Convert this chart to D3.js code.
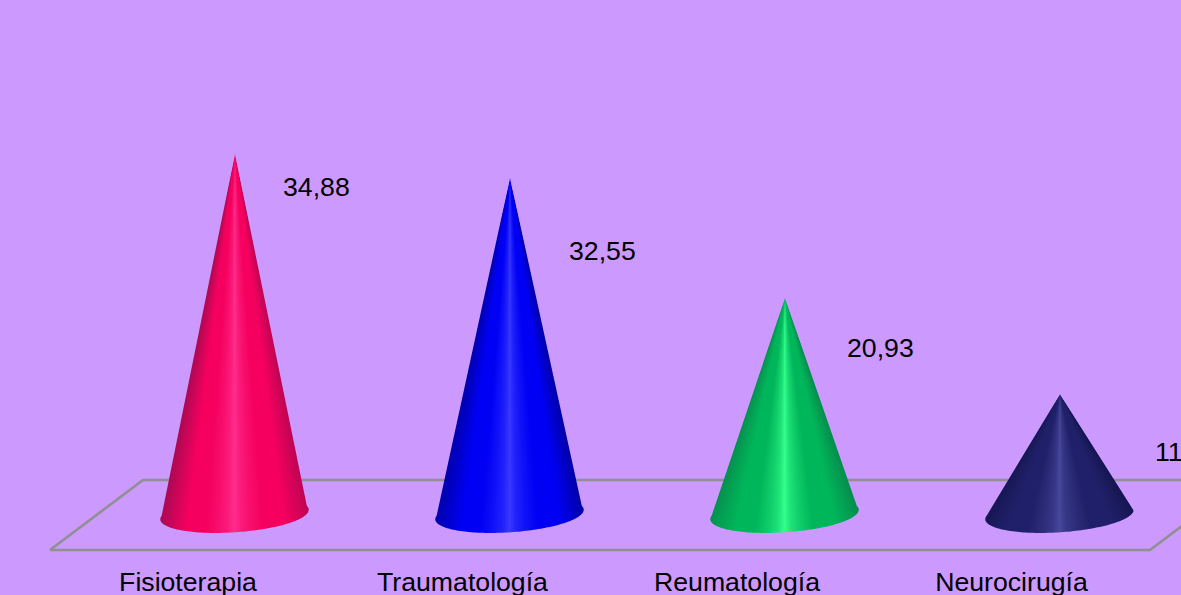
<!DOCTYPE html>
<html><head><meta charset="utf-8">
<script src="https://cdn.jsdelivr.net/npm/d3@7"></script>
<style>html,body{margin:0;padding:0;background:#CC99FF;overflow:hidden}svg{display:block}</style>
</head><body><svg id="c" width="1181" height="595"></svg>
<script>
const categories = ["Fisioterapia","Traumatología","Reumatología","Neurocirugía"];
const values = [34.88,32.55,20.93,11.63];
const valueLabels = ["34,88","32,55","20,93","11,63"];
// shading: left edge, body, highlight, right edge
const shades = [
  ["#a00a50","#f5005f","#ff2e8e","#b80552"],
  ["#0000a0","#0000f5","#3838ff","#0000a0"],
  ["#058a4c","#00b65a","#33ff8c","#058a4c"],
  ["#151550","#20206a","#47479c","#151550"]
];
const labelDx = [48,59,62,95];
const labelDy = [40,80,57,65];

const W=1181,H=595;
const svg=d3.select("#c");
const defs=svg.append("defs");
svg.append("rect").attr("width",W).attr("height",H).attr("fill","#CC99FF");
const x=d3.scalePoint().domain(categories).range([235,1060]);
const xLabel=d3.scalePoint().domain(categories).range([188,1011.5]);
const y=d3.scaleLinear().domain([0,34.88]).range([516.3,156]);

// floor
const floorFront=550, floorBack=480, floorL=50, floorR=1150, skew=93;
svg.append("path").attr("fill","none").attr("stroke","#909090").attr("stroke-width",2.6)
  .attr("d",d3.line()([[floorL,floorFront],[floorR,floorFront],[floorR+skew,floorBack],[floorL+skew,floorBack],[floorL,floorFront]]));

const a=74.4,b=17.8,rot=-Math.atan(10/148),TH=[168,372],tip=2;
const ux=Math.cos(rot),uy=Math.sin(rot);
const FONT="Liberation Sans, Arial",FS=26.67;
categories.forEach((c,i)=>{
  const ax=x(c),ay=y(values[i]);
  const cx=ax-0.5,cy=y(0)-1.8;
  const s=shades[i];
  const mix=d3.interpolateRgb(s[1],s[2]);
  const stops=[[0,s[0]],[.2,s[1]],[.32,s[1]],[.4,mix(.3)],[.46,mix(.6)],[.5,s[2]],[.54,mix(.6)],[.6,mix(.3)],[.68,s[1]],[.82,s[1]],[1,s[3]]];
  const gr=defs.append("linearGradient").attr("id","g"+i);
  gr.selectAll("stop").data(stops).join("stop").attr("offset",d=>d[0]).attr("stop-color",d=>d[1]);
  const pt=t=>{const th=t*Math.PI/180,p=a*Math.cos(th),q=-b*Math.sin(th);
    return [cx+p*ux-q*uy,cy+p*uy+q*ux];};
  const outline=[[ax,ay-tip]].concat(d3.range(TH[0],TH[1]+1,2).map(pt));
  defs.append("clipPath").attr("id","k"+i).append("path").attr("d",d3.line()(outline)+"Z");
  // one pixel row per scanline; its gradient narrows toward the apex, so shading converges there
  const rows=d3.range(Math.floor(ay-tip),Math.ceil(cy+b+3));
  const hw=r=>Math.max(.8,a*1.03*(r+.5-ay+tip)/(cy-ay+tip));
  svg.append("g").attr("clip-path",`url(#k${i})`).selectAll("rect").data(rows).join("rect")
    .attr("x",r=>cx+(ax-cx)*(1-(r-ay)/(cy-ay))-hw(r)).attr("y",r=>r)
    .attr("width",r=>2*hw(r)).attr("height",1).attr("fill",`url(#g${i})`);
  svg.append("text").attr("x",ax+labelDx[i]).attr("y",ay+labelDy[i])
    .attr("font-family",FONT).attr("font-size",FS).attr("fill","#000").text(valueLabels[i]);
  svg.append("text").attr("x",xLabel(c)).attr("y",591).attr("text-anchor","middle")
    .attr("font-family",FONT).attr("font-size",FS).attr("fill","#000").text(c);
});
</script></body></html>
